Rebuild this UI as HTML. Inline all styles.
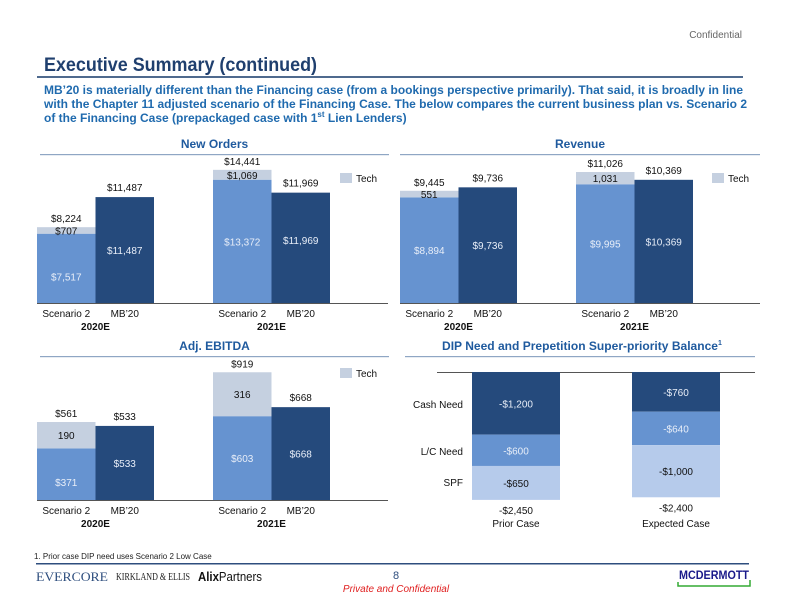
<!DOCTYPE html>
<html><head><meta charset="utf-8"><style>
body{margin:0;width:792px;height:612px;background:#fff;overflow:hidden;font-family:"Liberation Sans",sans-serif}
svg{position:absolute;left:0;top:0}
</style></head><body>
<svg width="792" height="612" viewBox="0 0 792 612" font-family="Liberation Sans, sans-serif">
<text x="742" y="38" font-size="10" fill="#666" text-anchor="end">Confidential</text>
<text x="44" y="71" font-size="19" font-weight="bold" fill="#1F3F6E" textLength="273" lengthAdjust="spacingAndGlyphs">Executive Summary (continued)</text>
<rect x="37" y="76" width="706" height="2" fill="#4F6A8E"/>
<g font-size="12" font-weight="bold" fill="#1F6AAE">
<text x="44" y="94" textLength="699" lengthAdjust="spacingAndGlyphs">MB’20 is materially different than the Financing case (from a bookings perspective primarily). That said, it is broadly in line</text>
<text x="44" y="108" textLength="703" lengthAdjust="spacingAndGlyphs">with the Chapter 11 adjusted scenario of the Financing Case. The below compares the current business plan vs. Scenario 2</text>
<g transform="translate(44,122) scale(1,1)"><text x="0" y="0">of the Financing Case (prepackaged case with 1<tspan font-size="8" dy="-5">st</tspan><tspan dy="5"> Lien Lenders)</tspan></text></g>
</g>
<g id="charts"></g>
<text x="34" y="559" font-size="8" fill="#222">1. Prior case DIP need uses Scenario 2 Low Case</text>
<rect x="36" y="563" width="713" height="1.5" fill="#2E4E7E"/>
<text x="36" y="581" font-size="13" font-family="Liberation Serif, serif" fill="#2E4E7E" textLength="72" lengthAdjust="spacingAndGlyphs">EVERCORE</text>
<text x="116" y="580" font-size="10" font-family="Liberation Serif, serif" fill="#222" textLength="74" lengthAdjust="spacingAndGlyphs">KIRKLAND &amp; ELLIS</text>
<text x="198" y="581" font-size="13" fill="#111" textLength="64" lengthAdjust="spacingAndGlyphs"><tspan font-weight="bold">Alix</tspan>Partners</text>
<text x="396" y="579" font-size="11" fill="#2E4E7E" text-anchor="middle">8</text>
<text x="396" y="592" font-size="10" font-style="italic" fill="#E02020" text-anchor="middle">Private and Confidential</text>
<text x="679" y="579" font-size="12" font-weight="bold" fill="#1A1A8A" textLength="70" lengthAdjust="spacingAndGlyphs">MCDERMOTT</text>
<path d="M678 582 V586 H750 V580" stroke="#33AA33" stroke-width="1.5" fill="none"/>
</svg>
<script>
const DARK='#254A7C',MID='#6693D0',LIGHT='#B6CBEB',TECH='#C5D0E0';
// New Orders
const noBase=[7517,13372];const noTech=[707,1069];const noMB=[11487,11969];
// Revenue
const revBase=[8894,9995];const revTech=[551,1031];const revMB=[9736,10369];
// Adj EBITDA
const ebBase=[371,603];const ebTech=[190,316];const ebMB=[533,668];
const years=['2020E','2021E'];
// DIP
const dipCases=['Prior Case','Expected Case'];
const dipCash=[1200,760];const dipLC=[600,640];const dipSPF=[650,1000];
const dipTotal=[2450,2400];

const NS='http://www.w3.org/2000/svg';
const root=document.getElementById('charts');
function mk(tag,attrs,parent){const e=document.createElementNS(NS,tag);for(const k in attrs)e.setAttribute(k,attrs[k]);(parent||root).appendChild(e);return e;}
function txt(x,y,s,opt,parent){const t=mk('text',Object.assign({x:x,y:y,'font-size':10,fill:'#111','text-anchor':'middle'},opt||{}),parent);t.textContent=s;return t;}
function fmt(v){return '$'+v.toLocaleString('en-US');}

function panel(name,title,x0,x1,yTitle,tlen){
  const g=mk('g',{});
  
  
  const opt={'font-size':12,'font-weight':'bold',fill:'#1F5A9E'};
  if(tlen){opt.textLength=tlen;opt.lengthAdjust='spacingAndGlyphs';}
  const t=txt((x0+x1)/2,yTitle,title,opt,g);
  
  
  const r=mk('rect',{x:x0,y:yTitle+6,width:x1-x0,height:1.2,fill:'#8FA6C4'},g);
  
  
  return g;
}

function groupChart(name,g,base,tech,mb,baseY,scale,groupX,w,axisX0,axisX1,legX,legY){
  const y=v=>baseY-v*scale;
  base.forEach((v,i)=>{
    const x=groupX[i];
    const b=mk('rect',{x:x,y:y(v),width:w,height:v*scale,fill:MID},g);
    
    
    const tv=tech[i];
    const tb=mk('rect',{x:x,y:y(v+tv),width:w,height:tv*scale,fill:TECH},g);
    
    
    const m=mb[i];
    const mbb=mk('rect',{x:x+w,y:y(m),width:w,height:m*scale,fill:DARK},g);
    
    
    const d=name==='adj-ebitda'?(s=>'$'+s):fmt;
    txt(x+w/2,y(v)+(v*scale)/2+(i===0&&name!=='revenue'?12:4),d(v),{fill:'#E8EEF8'},g);
    txt(x+w/2,y(v+tv/2)+4,name==='revenue'||name==='adj-ebitda'?tv.toLocaleString('en-US'):d(tv),{},g);
    txt(x+w/2,y(v+tv)-5,d(v+tv),{},g);
    txt(x+w*1.5,y(m)+(m*scale)/2+(name==='new-orders'&&i===1?-8:0)+4,d(m),{fill:'#E8EEF8'},g);
    txt(x+w*1.5,y(m)-6,d(m),{},g);
    txt(x+w/2,baseY+14,'Scenario 2',{},g);
    txt(x+w*1.5,baseY+14,'MB’20',{},g);
    txt(x+w,baseY+27,years[i],{'font-weight':'bold'},g);
  });
  const ax=mk('rect',{x:axisX0,y:baseY,width:axisX1-axisX0,height:1,fill:'#555'},g);
  
  
  const ls=mk('rect',{x:legX,y:legY-9,width:12,height:10,fill:TECH},g);
  
  
  const lt=txt(legX+16,legY,'Tech',{'text-anchor':'start'},g);
  
  
}

const g1=panel('new-orders','New Orders',40,389,148);
groupChart('new-orders',g1,noBase,noTech,noMB,303,0.00922,[37,213],58.5,37,388,340,182);
const g2=panel('revenue','Revenue',400,760,148);
groupChart('revenue',g2,revBase,revTech,revMB,303,0.01188,[400,576],58.5,400,760,712,182);
const g3=panel('adj-ebitda','Adj. EBITDA',40,389,350);
groupChart('adj-ebitda',g3,ebBase,ebTech,ebMB,500,0.139,[37,213],58.5,37,388,340,377);

const g4=panel('dip-need','DIP Need and Prepetition Super-priority Balance',405,755,350,276);
const sup=txt(720,345,'1',{'font-size':7,'font-weight':'bold',fill:'#1F5A9E'},g4);
const dTop=372,dScale=0.0522,dX=[472,632],dW=88;
const dax=mk('rect',{x:437,y:dTop,width:318,height:1,fill:'#555'},g4);


dipCases.forEach((c,i)=>{
  let y=dTop;
  [[dipCash,DARK,'cash-need','#E8EEF8'],[dipLC,MID,'lc-need','#E8EEF8'],[dipSPF,LIGHT,'spf','#111']].forEach(([arr,col,nm,tc])=>{
    const h=arr[i]*dScale;
    const r=mk('rect',{x:dX[i],y:y,width:dW,height:h,fill:col},g4);
    
    
    txt(dX[i]+dW/2,y+h/2+4,'-'+fmt(arr[i]),{fill:tc},g4);
    y+=h;
  });
  txt(dX[i]+dW/2,y+14,'-'+fmt(dipTotal[i]),{},g4);
  txt(dX[i]+dW/2,dTop+155,c,{},g4);
});
txt(463,408,'Cash Need',{'text-anchor':'end'},g4);
txt(463,455,'L/C Need',{'text-anchor':'end'},g4);
txt(463,486,'SPF',{'text-anchor':'end'},g4);
</script>
</body></html>
